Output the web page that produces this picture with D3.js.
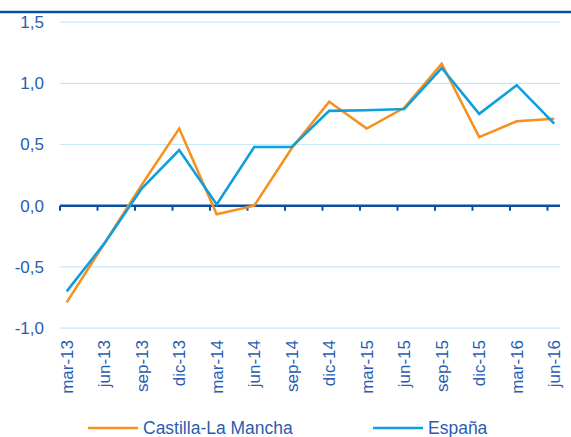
<!DOCTYPE html>
<html>
<head>
<meta charset="utf-8">
<script src="https://cdn.jsdelivr.net/npm/d3@7"></script>
<style>
  body { margin: 0; background: #fff; }
  svg { display: block; font-family: "Liberation Sans", Arial, sans-serif; }
</style>
</head>
<body>
<script>
// datos
const categories = ["mar-13", "jun-13", "sep-13", "dic-13", "mar-14", "jun-14", "sep-14",
    "dic-14", "mar-15", "jun-15", "sep-15", "dic-15", "mar-16", "jun-16"];
const castilla = [-0.79, -0.31, 0.17, 0.63, -0.07, 0.0, 0.47, 0.85, 0.63, 0.80, 1.16, 0.56, 0.69, 0.71];
const espana = [-0.70, -0.31, 0.14, 0.455, 0.01, 0.48, 0.48, 0.775, 0.78, 0.79, 1.125, 0.75, 0.985, 0.67];
const yTicks = [-1.0, -0.5, 0.0, 0.5, 1.0, 1.5];
const seriesNames = ["Castilla-La Mancha", "España"];
const seriesColors = ["#f7901e", "#0f9fdc"];

const width = 571, height = 437;
const plotLeft = 60, plotRight = 560;
const textColor = "#2a5db0";
const axisColor = "#0b4ea2";

const svg = d3.select("body").append("svg")
    .attr("width", width)
    .attr("height", height);

// linea superior
svg.append("line")
    .attr("x1", 0).attr("x2", width)
    .attr("y1", 12).attr("y2", 12)
    .attr("stroke", "#0d4c9c")
    .attr("stroke-width", 2.5);

const x = d3.scalePoint()
    .domain(categories)
    .range([66.7, 554.2]);

const y = d3.scaleLinear()
    .domain([-1, 1.5])
    .range([328.1, 22.1]);

const esLocale = d3.formatLocale({decimal: ",", thousands: ".", grouping: [3], currency: ["", " €"], minus: "-"});
const fmt = esLocale.format(".1f");

// rejilla
svg.append("g")
    .selectAll("line")
    .data(yTicks.filter(d => d !== 0))
    .join("line")
    .attr("x1", plotLeft).attr("x2", plotRight)
    .attr("y1", d => y(d)).attr("y2", d => y(d))
    .attr("stroke", "#c6e9f8")
    .attr("stroke-width", 1.2);

// eje y
const yAxis = svg.append("g")
    .attr("transform", "translate(44,0)")
    .call(d3.axisLeft(y).tickValues(yTicks).tickFormat(fmt).tickSize(0).tickPadding(0));
yAxis.select(".domain").remove();
yAxis.selectAll("text")
    .attr("fill", textColor)
    .attr("font-size", 17)
    .attr("font-family", "Liberation Sans, Arial, sans-serif");

// eje cero con marcas
svg.append("g")
    .selectAll("line")
    .data(categories)
    .join("line")
    .attr("x1", d => x(d) - 6.7).attr("x2", d => x(d) - 6.7)
    .attr("y1", y(0)).attr("y2", y(0) + 5)
    .attr("stroke", axisColor)
    .attr("stroke-width", 2);

svg.append("line")
    .attr("x1", plotLeft).attr("x2", plotRight)
    .attr("y1", y(0)).attr("y2", y(0))
    .attr("stroke", axisColor)
    .attr("stroke-width", 2.5);

// lineas
const line = d3.line()
    .x((d, i) => x(categories[i]))
    .y(d => y(d));

[castilla, espana].forEach((s, k) => {
    svg.append("path")
        .datum(s)
        .attr("d", line)
        .attr("fill", "none")
        .attr("stroke", seriesColors[k])
        .attr("stroke-width", 2.6)
        .attr("stroke-linejoin", "miter");
});

// etiquetas x
svg.append("g")
    .selectAll("text")
    .data(categories)
    .join("text")
    .attr("transform", d => `translate(${x(d)},340) rotate(-90)`)
    .attr("text-anchor", "end")
    .attr("dy", "0.35em")
    .attr("fill", textColor)
    .attr("font-size", 17)
    .text(d => d);

// leyenda
const legendX = [88, 373];
const legend = svg.append("g")
    .selectAll("g")
    .data(seriesNames)
    .join("g")
    .attr("transform", (d, i) => `translate(${legendX[i]},428)`);

legend.append("line")
    .attr("x1", 0).attr("x2", 50)
    .attr("stroke", (d, i) => seriesColors[i])
    .attr("stroke-width", 2.6);

legend.append("text")
    .attr("x", 55)
    .attr("dy", "0.35em")
    .attr("fill", textColor)
    .attr("font-size", 17.5)
    .text(d => d);
</script>
</body>
</html>
